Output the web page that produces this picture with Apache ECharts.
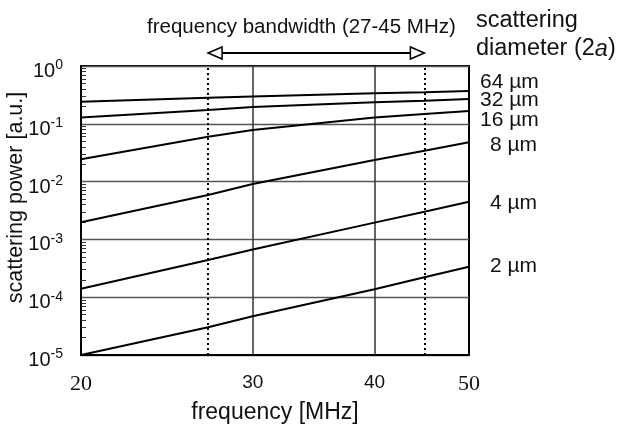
<!DOCTYPE html>
<html lang="en">
<head>
<meta charset="UTF-8">
<title>scattering power</title>
<script src="https://cdn.jsdelivr.net/npm/echarts@6/dist/echarts.min.js"></script>
<style>
  html, body { margin: 0; padding: 0; background: #fff; }
  #chart { width: 618px; height: 427px; }
</style>
</head>
<body>
<div id="chart"></div>
<script>
// frequency [MHz] where the curves were read
var freqs = [20, 27, 30, 40, 45, 50];

// scattering power [a.u.] for each diameter
var power64 = [0.241, 0.283, 0.298, 0.337, 0.351, 0.369];
var power32 = [0.128, 0.173, 0.195, 0.235, 0.251, 0.269];
var power16 = [0.0243, 0.0598, 0.0781, 0.129, 0.148, 0.166];
var power8 = [0.00198, 0.00586, 0.00908, 0.0236, 0.0343, 0.0479];
var power4 = [1.40e-4, 4.40e-4, 6.69e-4, 1.95e-3, 3.01e-3, 4.49e-3];
var power2 = [1.0e-5, 3.01e-5, 4.67e-5, 1.37e-4, 2.21e-4, 3.37e-4];

var sizeNames = ['64 µm', '32 µm', '16 µm', '8 µm', '4 µm', '2 µm'];
var sizePowers = [power64, power32, power16, power8, power4, power2];

var xTicks = [20, 30, 40, 50];
var gridFreqs = [30, 40];
var bandEdges = [27, 45];

var FONT = '"Liberation Sans", Arial, Helvetica, sans-serif';
var SERIF = '"Liberation Serif", "Times New Roman", serif';

// minor ticks of the log axis: 2..9 x 10^n
var yMinor = [];
for (var n = -5; n < 0; n++) {
    for (var k = 2; k <= 9; k++) yMinor.push(k * Math.pow(10, n));
}

// label offsets to the right of the curve ends
var labelOffsets = [[3, -9], [3, 1], [3, 9], [13, 3], [13, 2], [13, 0]];

var series = sizeNames.map(function (name, i) {
    return {
        name: name,
        type: 'line',
        symbol: 'none',
        data: freqs.map(function (f, j) { return [f, sizePowers[i][j]]; }),
        lineStyle: { color: '#000', width: 2 },
        endLabel: {
            show: true,
            formatter: name,
            offset: labelOffsets[i],
            fontFamily: FONT,
            fontSize: 21,
            color: '#111'
        },
        z: 3
    };
});

series[0].markLine = {
    silent: true,
    symbol: 'none',
    label: { show: false },
    z: 1,
    data: gridFreqs.map(function (f) {
        return { xAxis: f, lineStyle: { color: '#333', width: 1.5, type: 'solid' } };
    }).concat(bandEdges.map(function (f) {
        return { xAxis: f, lineStyle: { color: '#000', width: 2, type: [2, 3] } };
    }))
};

var chart = echarts.init(document.getElementById('chart'));

var option = {
    animation: false,
    backgroundColor: '#fff',
    textStyle: { fontFamily: FONT },
    grid: {
        left: 81, top: 66, right: 149, bottom: 72,
        show: true, borderColor: '#000', borderWidth: 2,
        containLabel: false,
        outerBoundsMode: 'none'
    },
    xAxis: {
        type: 'log',
        logBase: 10,
        min: 20,
        max: 50,
        name: 'frequency [MHz]',
        nameLocation: 'middle',
        nameGap: 46,
        nameTextStyle: { fontSize: 23, color: '#111', fontFamily: FONT },
        axisLine: { lineStyle: { color: '#000', width: 2 } },
        axisTick: { show: false },
        splitLine: { show: false },
        minorTick: { show: false },
        axisLabel: {
            customValues: xTicks,
            margin: 18,
            color: '#111',
            formatter: function (v) {
                v = Math.round(v);
                return (v === 20 || v === 50) ? '{s|' + v + '}' : '{n|' + v + '}';
            },
            rich: {
                s: { fontFamily: SERIF, fontSize: 22, color: '#111' },
                n: { fontFamily: FONT, fontSize: 19, color: '#111' }
            }
        }
    },
    yAxis: [
        {
            type: 'log',
            logBase: 10,
            min: 1e-5,
            max: 1,
            name: 'scattering power [a.u.]',
            nameLocation: 'middle',
            nameGap: 54,
            nameMoveOverlap: false,
            nameTextStyle: { fontSize: 21.5, color: '#111', fontFamily: FONT, padding: [0, 0, 0, 26] },
            axisLine: { lineStyle: { color: '#000', width: 2 } },
            axisTick: { show: false },
            splitLine: { show: true, lineStyle: { color: '#555', width: 1.3 } },
            axisLabel: {
                margin: 18,
                padding: [8, 0, 0, 0],
                color: '#111',
                formatter: function (v) {
                    var e = Math.round(Math.log(v) / Math.LN10);
                    return '{b|10}{s|' + e + '}';
                },
                rich: {
                    b: { fontSize: 20, fontFamily: FONT, color: '#111', verticalAlign: 'bottom' },
                    s: { fontSize: 14, fontFamily: FONT, color: '#111', verticalAlign: 'bottom', padding: [0, 0, 9, 0] }
                }
            }
        },
        {
            // minor ticks only
            type: 'log',
            logBase: 10,
            min: 1e-5,
            max: 1,
            position: 'left',
            axisLine: { show: false },
            axisLabel: { show: false },
            splitLine: { show: false },
            axisTick: {
                show: true,
                inside: true,
                length: 5,
                customValues: yMinor,
                lineStyle: { color: '#333', width: 1 }
            }
        }
    ],
    series: series,
    graphic: [
        {
            type: 'text', left: 147, top: 17,
            style: { text: 'frequency bandwidth (27-45 MHz)', fontSize: 20.5, fontFamily: FONT, fill: '#111' }
        },
        {
            type: 'text', left: 476, top: 7,
            style: {
                text: 'scattering\ndiameter (2{i|a})',
                fontSize: 23.5, lineHeight: 28, fontFamily: FONT, fill: '#111',
                rich: { i: { fontStyle: 'italic', fontSize: 23.5, fontFamily: FONT } }
            }
        }
    ]
};

chart.setOption(option);

// double arrow spanning the band, placed with the x scale
var x1 = chart.convertToPixel({ xAxisIndex: 0 }, bandEdges[0]);
var x2 = chart.convertToPixel({ xAxisIndex: 0 }, bandEdges[1]);
var ay = 53;
chart.setOption({
    graphic: [
        {
            type: 'line', id: 'arrowShaft',
            shape: { x1: x1 + 14, y1: ay, x2: x2 - 14, y2: ay },
            style: { stroke: '#000', lineWidth: 2 }
        },
        {
            type: 'polygon', id: 'arrowL',
            shape: { points: [[x1, ay], [x1 + 14, ay - 6], [x1 + 14, ay + 6]] },
            style: { stroke: '#000', fill: '#fff', lineWidth: 1.5 }
        },
        {
            type: 'polygon', id: 'arrowR',
            shape: { points: [[x2, ay], [x2 - 14, ay - 6], [x2 - 14, ay + 6]] },
            style: { stroke: '#000', fill: '#fff', lineWidth: 1.5 }
        }
    ]
});
</script>
</body>
</html>
